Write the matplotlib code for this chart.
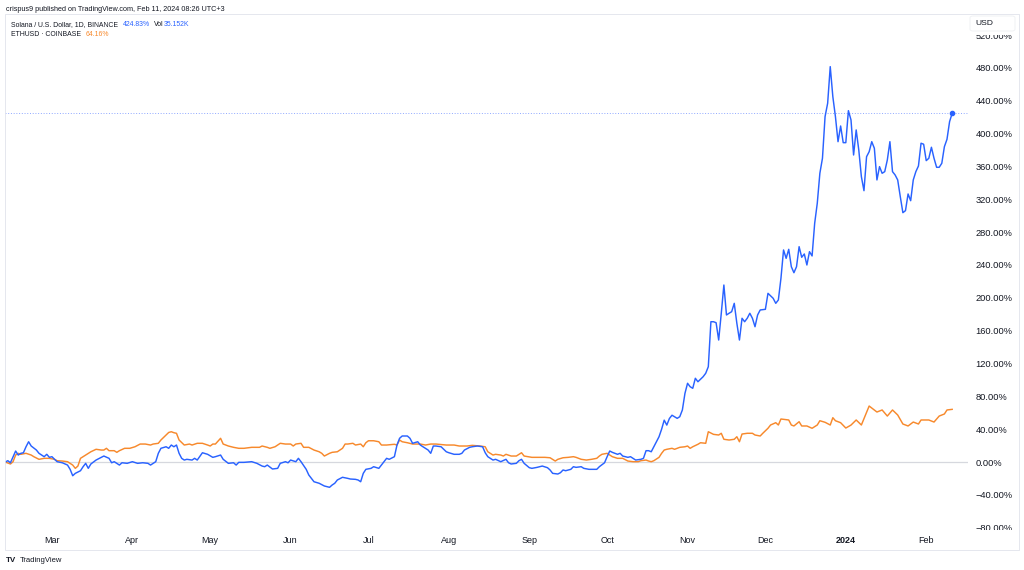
import numpy as np
import matplotlib
matplotlib.use("Agg")
import matplotlib.pyplot as plt
import matplotlib.dates as mdates
from matplotlib.transforms import Bbox, TransformedBbox
from matplotlib.patches import Rectangle, FancyBboxPatch

plt.rcParams['font.family'] = ['Liberation Sans', 'DejaVu Sans']

# ---------------- data (percent change since 2023-02-11) ----------------
start_date = np.datetime64('2023-02-11')

sol_day = [0,1,2,4,5,6,7,8,9,10,12,13,15,16,17,18,19,20,22,24,25,26,27,29,30,31,32,33,35,37,38,40,41,42,44,45,47,49,51,53,55,56,58,59,60,62,63,64,65,66,67,68,69,70,72,73,74,76,78,80,81,83,84,86,88,89,90,92,95,97,99,100,101,103,105,106,108,109,110,112,113,114,116,117,119,121,123,125,126,127,128,130,132,133,135,136,137,138,139,141,142,144,146,147,148,150,151,152,153,155,156,157,159,160,161,163,164,165,166,168,170,171,173,175,176,177,179,180,182,184,185,186,188,189,191,193,194,195,197,198,199,200,202,203,205,206,207,209,210,211,213,214,215,216,218,219,220,222,223,225,227,228,229,231,232,233,234,235,236,237,238,240,241,242,243,245,246,247,248,249,250,252,253,254,255,256,257,259,260,261,262,263,264,265,266,267,269,270,271,272,273,274,275,276,277,278,279,280,281,282,283,284,285,286,287,288,289,290,291,293,294,296,297,298,299,300,301,302,303,304,305,306,307,308,309,310,311,312,313,314,315,316,317,318,319,320,321,322,323,324,325,326,327,328,329,330,331,332,333,334,335,336,337,338,339,340,341,342,343,344,345,346,347,348,349,350,351,352,353,354,355,356,357,358,359,360,361,362,363,364,365]
sol_pct = [0,1.6,-0.9,13.4,8.5,10.6,11.3,18.6,24.7,19.5,14.6,10.6,6.5,9.4,5.7,6.5,3.3,0.4,-0.9,-3.7,-8.9,-16.7,-13.8,-10.6,-5.7,-1.6,-7.7,-2.4,2.4,5.7,7.3,4.5,-0.9,0.4,-3.7,-0.9,-1.6,0.4,-1.6,-0.9,-1.6,-3.7,0.4,10.6,16.7,18.6,16.7,20.7,18.6,20.7,10.6,4.5,2.4,3.3,2.4,4.5,2.4,11.3,9.4,5.7,6.5,8.5,3.3,-1.6,-0.9,-3.7,-0.4,-0.4,0.4,-1.6,-4.9,-5.7,-3.7,-8.5,-7.7,-1.6,0.4,-0.9,2.4,0.4,4.5,0.4,-8.9,-15.8,-24,-25.9,-29.2,-30.8,-28,-25.9,-21.9,-18.6,-19.9,-20.7,-21.1,-21.9,-24,-13.8,-8.9,-7.7,-5.7,-7.7,0.4,4.5,3.3,6.5,20.7,28.9,31.7,31.7,28.9,22.8,24.7,20.7,18.6,14.6,10.6,19.5,19.5,18.6,12.5,11.3,9.4,9.4,10.6,14.6,17.9,18.6,19.5,18.6,11.3,6.5,2.4,3.3,0.4,3.3,-0.9,-2.4,-1.6,1.6,3.3,-1.6,-6.9,-7.7,-6.5,-5.7,-4.9,-6.9,-9.7,-13.8,-14.6,-13,-9.7,-10.6,-8.9,-5.7,-6.5,-5.7,-7.7,-8.9,-8.9,-8.9,-5.7,-0.9,6.5,13.4,11.8,10.6,9.4,10.6,7.3,5.7,6.5,4.5,2.4,3.3,4.5,13.8,13.8,12.5,18.6,30.8,40,51,45,53,57,53.2,55.2,63.4,83.7,95.9,91.7,89.8,102,97.8,103.9,108.1,116.1,170.9,170.9,169.7,148.6,181.2,215.6,179.1,181.2,183.1,193.3,169,148.6,175.1,170.9,175.1,181.2,175.1,164.8,179.1,185.2,186,205.5,199.4,193.3,197.4,223.8,258.3,248.1,259.1,237.9,230.6,237.9,262.3,249.4,253.4,240,256.2,251,290.8,315.2,351.7,370,420.7,437,481.6,445,420.7,390.2,409.3,389,389,428,416.7,374,404.5,380.1,347.6,330.5,371.9,378,390.2,382.2,343.6,359.8,351.7,353.7,367.9,390.2,353.7,349.7,343.6,323.2,303.7,306.2,326.5,318.3,343.6,353.7,360.6,388.3,387.1,367.1,370,383.4,370,359,359,363.9,384.1,393.1,414.6,424.83]

eth_day = [0,2,3,4,5,6,8,10,11,13,15,17,19,20,22,24,26,27,28,29,31,32,33,35,37,38,39,40,42,43,44,46,48,50,52,54,56,57,59,60,62,63,64,65,66,67,69,71,72,74,76,78,79,80,81,83,84,86,88,90,92,95,98,99,101,102,104,106,108,110,111,112,114,115,117,119,121,122,123,125,126,128,130,131,132,134,135,137,138,139,140,142,144,145,147,150,151,152,153,155,157,160,162,164,166,170,173,175,178,180,183,185,186,188,189,191,192,193,195,197,199,200,203,205,208,210,212,213,215,217,219,220,222,224,226,228,229,230,232,233,234,236,238,240,242,244,245,247,248,249,250,252,253,254,255,257,258,260,262,263,264,265,267,268,270,271,273,275,276,277,279,281,282,283,284,286,288,289,291,292,294,295,297,298,299,300,302,303,304,306,307,309,311,313,314,316,318,319,320,322,324,326,328,330,333,334,336,338,340,342,344,346,348,350,352,353,356,358,360,362,363,365]
eth_pct = [0,-2.4,0.4,8.5,10.6,9.4,10.6,8.5,6.5,3.3,4.5,4.5,3.3,1.6,1.2,0.4,-3.7,-7.7,-4.9,4.5,8.5,10.6,12.5,15.5,14.6,14.6,16.7,13.8,13.8,11.8,13.8,16.7,16.7,18.6,21.9,21.9,20.7,21.9,22.8,26.8,32.9,36,36.9,35.7,35,26.8,20.7,21.9,20.7,22.8,22.8,20.7,19.5,21.9,21.9,28.9,21.9,19.5,17.9,16.7,16.7,17.9,17.9,19.5,17.9,16.7,18.6,22.8,21.9,21.9,19.5,21.9,22.8,17.9,17.9,14.6,12.5,10.6,7.3,10.6,11.8,12.5,16.7,21.9,21.9,22.8,20.7,21.9,18.6,23.5,25.9,25.9,24.7,20.7,20.7,21.6,20.7,26.8,24.7,23.5,21.9,21.9,20.7,21.9,21.9,20.7,20.7,19.5,19.5,20.3,19.5,18.6,12.5,8.5,9.4,8.5,7.3,9.4,7.3,7.3,11.3,7.3,5.7,5.7,5.7,5.2,1.2,3.3,5.2,5.7,6.5,5.7,3.3,2.4,3.3,4.5,7.3,9.4,10.6,8.5,6.5,4.5,4.5,1.2,0.4,0.4,1.6,2.4,1.2,0.4,1.6,5.7,10.6,14.6,15.5,16.7,15.5,17.9,18.6,19.5,16.7,18.6,21.6,23.5,22.8,36.9,33.7,32.9,35,27.7,26.8,27.7,30.8,24.7,34.1,35,35,32.9,31.7,35,41.1,45.1,47.9,45.1,52.4,52,51.2,45.1,43.9,49.1,43.9,43.9,41.1,45.1,50.3,48.4,45.1,54,50.3,47.9,41.4,45,51.2,45.1,68.2,65.8,60.9,63.4,56,63.4,57.3,46.3,43.9,48.7,46.3,51.2,51.2,48.7,56,58.5,63.4,64.16]

month_dates = ['2023-03-01','2023-04-01','2023-05-01','2023-06-01','2023-07-01','2023-08-01',
               '2023-09-01','2023-10-01','2023-11-01','2023-12-01','2024-01-01','2024-02-01']
month_labels = ['Mar','Apr','May','Jun','Jul','Aug','Sep','Oct','Nov','Dec','2024','Feb']
y_ticks = [-80,-40,0,40,80,120,160,200,240,280,320,360,400,440,480,520]

SOL_LAST = 424.83
ETH_LAST = 64.16

# ---------------- styling ----------------
W, H = 1024, 570
BLUE = '#2962FF'
ORANGE = '#F7892C'
TXT = '#131722'
ZERO = '#D6D8DE'

fig = plt.figure(figsize=(W/100, H/100), dpi=100)
fig.patch.set_facecolor('white')

def fx(px):
    return px / W

def fy(py):
    return 1 - py / H

ax_left, ax_right, ax_top, ax_bot = 5, 968, 15, 530
ax = fig.add_axes([fx(ax_left), fy(ax_bot), fx(ax_right - ax_left), (ax_bot - ax_top) / H])
ax.set_facecolor('none')

sol_dates = start_date + np.array(sol_day).astype('timedelta64[D]')
eth_dates = start_date + np.array(eth_day).astype('timedelta64[D]')
sol_x = mdates.date2num(sol_dates)
eth_x = mdates.date2num(eth_dates)
x0 = mdates.date2num(start_date)

ax.axhline(0, color=ZERO, lw=0.9, zorder=1)
ax.axhline(SOL_LAST, color='#8FA8FF', lw=0.7, ls=(0, (1, 1.8)), zorder=1)

ax.plot(eth_x, eth_pct, color=ORANGE, lw=1.05, zorder=3, solid_joinstyle='round')
ax.plot(sol_x, sol_pct, color=BLUE, lw=1.05, zorder=4, solid_joinstyle='round')
ax.plot([sol_x[-1]], [sol_pct[-1]], 'o', color=BLUE, ms=3.0, zorder=5)

ax.set_xlim(x0 - 0.1, x0 + 371.1)
ax.set_ylim(-82.8, 544.5)

for s in ax.spines.values():
    s.set_visible(False)

ax.yaxis.tick_right()
ax.set_yticks(y_ticks)
ax.set_yticklabels([(f"{v:.2f}%" if v >= 0 else "\u2212" + f"{-v:.2f}%") for v in y_ticks])
ax.tick_params(axis='y', length=0, pad=5.3, labelsize=6.7, labelcolor=TXT)

ax.set_xticks(mdates.date2num(np.array(month_dates, dtype='datetime64[D]')))
ax.set_xticklabels(month_labels)
ax.tick_params(axis='x', length=0, pad=4.5, labelsize=6.5, labelcolor=TXT)
for lbl in ax.get_xticklabels():
    if lbl.get_text() == '2024':
        lbl.set_fontweight('bold')

# the price scale labels are cut off where the time scale and the USD box begin
clip = TransformedBbox(Bbox.from_extents(0, fy(ax_bot), 1, fy(34.5)), fig.transFigure)
for t in ax.yaxis.get_major_ticks():
    t.label2.set_clip_box(clip)
    t.label2.set_clip_on(True)

# panel border
fig.patches.append(Rectangle((fx(5), fy(550)), fx(1019 - 5), (550 - 14) / H,
                             transform=fig.transFigure, fill=False, edgecolor='#E0E3EB',
                             lw=0.6, zorder=0))

# USD label box
fig.patches.append(FancyBboxPatch((fx(970), fy(31)), fx(45), 15 / H,
                                  boxstyle='round,pad=0,rounding_size=0.003',
                                  transform=fig.transFigure, facecolor='white',
                                  edgecolor='#EEF0F3', lw=0.6, zorder=5))
fig.text(fx(975.5), fy(23.5), 'USD', fontsize=6.1, color=TXT, va='center', ha='left', zorder=10)

# header texts
fig.text(fx(6.5), fy(9.3), 'crispus9 published on TradingView.com, Feb 11, 2024 08:26 UTC+3',
         fontsize=5.25, color=TXT, va='center', ha='left')

renderer = fig.canvas.get_renderer()

def text_run(x_px, y_px, parts, size=4.95):
    x = x_px
    for txt, col, gap in parts:
        t = fig.text(fx(x), fy(y_px), txt, fontsize=size, color=col, va='center', ha='left')
        bb = t.get_window_extent(renderer)
        x = x + bb.width + gap

text_run(10.7, 24.5, [('Solana / U.S. Dollar, 1D, BINANCE', TXT, 5.0),
                      (f'{SOL_LAST:.2f}%', BLUE, 4.0),
                      ('Vol', TXT, 0.3),
                      ('35.152K', BLUE, 0)])
text_run(10.7, 34.2, [('ETHUSD \u00b7 COINBASE', TXT, 4.6),
                      (f'{ETH_LAST:.2f}%', ORANGE, 0)])

# footer logo
fig.text(fx(5.5), fy(560.5), 'TV', fontsize=5.8, fontweight='heavy', color=TXT, va='center')
fig.text(fx(19.5), fy(560.5), 'TradingView', fontsize=5.5, color=TXT, va='center')

fig.savefig('out.png', dpi=100, facecolor='white')
